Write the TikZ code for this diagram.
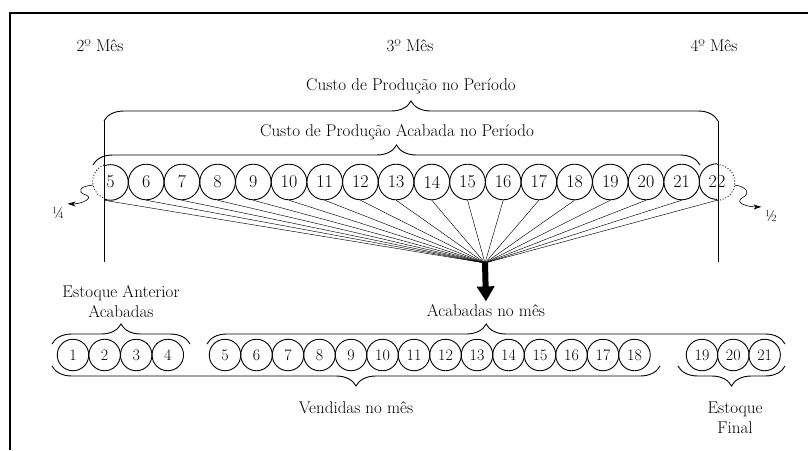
\documentclass[tikz,border=0pt]{standalone}
\usepackage{fontspec}
\usetikzlibrary{arrows.meta,decorations.pathreplacing}
\tikzset{
  topnum/.style={circle,draw,line width=0.9pt,minimum size=35.6pt,inner sep=0pt,font=\fontsize{18}{18}\selectfont},
  botnum/.style={circle,draw,line width=0.9pt,minimum size=31.5pt,inner sep=0pt,font=\fontsize{16}{16}\selectfont},
  lbl/.style={font=\fontsize{17}{20}\selectfont,align=center},
  bracelbl/.style={decorate,line width=0.9pt,decoration={brace,amplitude=20pt}},
  fanline/.style={line width=0.45pt},
  bigarrow/.style={-{Triangle[length=15pt,width=17pt]},line width=6pt},
  squiggle/.style={line width=0.6pt,-{Stealth[length=8pt,width=5pt]}},
}
\begin{document}
\begin{tikzpicture}[x=1pt,y=-1pt]
    \useasboundingbox (0,0) rectangle (808,450);
    % frame
    \draw[line width=1.1pt] (10,450) -- (10,13) -- (808,13);
    % months
    \node[lbl] (m2) at (100,46) {2º Mês};
    \node[lbl] (m3) at (410,46) {3º Mês};
    \node[lbl] (m4) at (714,46) {4º Mês};
    % period braces
    \node[lbl] (custo) at (411,86) {Custo de Produção no Período};
    \draw[bracelbl] (104,121) -- (718,121);
    \node[lbl] (acabper) at (397,132) {Custo de Produção Acabada no Período};
    \draw[bracelbl] (93,165) -- (700,165);
    \draw[line width=0.7pt] (104,121) -- (104,262);
    \draw[line width=0.7pt] (718,121) -- (718,262);
    % top row
    \foreach \i in {6,...,21}
        \node[topnum] (t\i) at ({110.5+35.7*(\i-5)},182) {\i};
    \node[topnum,draw=none] (t5) at (110.5,182) {5};
    \node[topnum,draw=none] (t22) at (717,182) {22};
    \draw[line width=0.9pt] (t5.-111.4) arc[start angle=-111.4,end angle=111.4,radius=17.8pt];
    \draw[line width=0.9pt,dotted] (t5.111.4) arc[start angle=111.4,end angle=248.6,radius=17.8pt];
    \draw[line width=0.9pt] (t22.90) arc[start angle=90,end angle=270,radius=17.8pt];
    \draw[line width=0.9pt,dotted] (t22.-90) arc[start angle=-90,end angle=90,radius=17.8pt];
    % fractions
    \node[font=\fontsize{16}{16}\selectfont] (quarter) at (58,213) {¼};
    \node[font=\fontsize{16}{16}\selectfont] (half) at (771,216) {½};
    \draw[squiggle] (t5.190) .. controls (80,186) and (76,192) .. (86,195) .. controls (94,198) and (82,204) .. (quarter.north east);
    \draw[squiggle] (t22.-10) .. controls (745,186) and (752,193) .. (742,198) .. controls (734,203) and (748,207) .. (half.north west);
    % fan
    \coordinate (fan) at (485,263);
    \draw[fanline] ([xshift=-6.5pt]t5.south) -- (fan);
    \foreach \i in {6,...,22}
        \draw[fanline] (t\i.south) -- (fan);
    \node[lbl] (acab) at (486,311) {Acabadas no mês};
    \draw[bigarrow] (fan) -- (acab.north);
    % bottom row
    \foreach \i in {1,...,4}
        \node[botnum] (b\i) at ({73+31.6*(\i-1)},355) {\i};
    \foreach \i in {5,...,18}
        \node[botnum] (b\i) at ({225+31.5*(\i-5)},355) {\i};
    \foreach \i in {19,...,21}
        \node[botnum] (b\i) at ({702+31.3*(\i-19)},355) {\i};
    % bottom braces
    \node[lbl] (estant) at (121,302) {Estoque Anterior\\Acabadas};
    \draw[bracelbl] (52,344) -- (190,344);
    \draw[bracelbl,decoration={brace,amplitude=20pt,aspect=0.483}] (207,344) -- (785,344);
    \draw[bracelbl] (660,366) -- (52,366);
    \draw[bracelbl] (785,366) -- (678,366);
    \node[lbl] (vend) at (356,408) {Vendidas no mês};
    \node[lbl] (estfin) at (735,418) {Estoque\\Final};
\end{tikzpicture}
\end{document}
